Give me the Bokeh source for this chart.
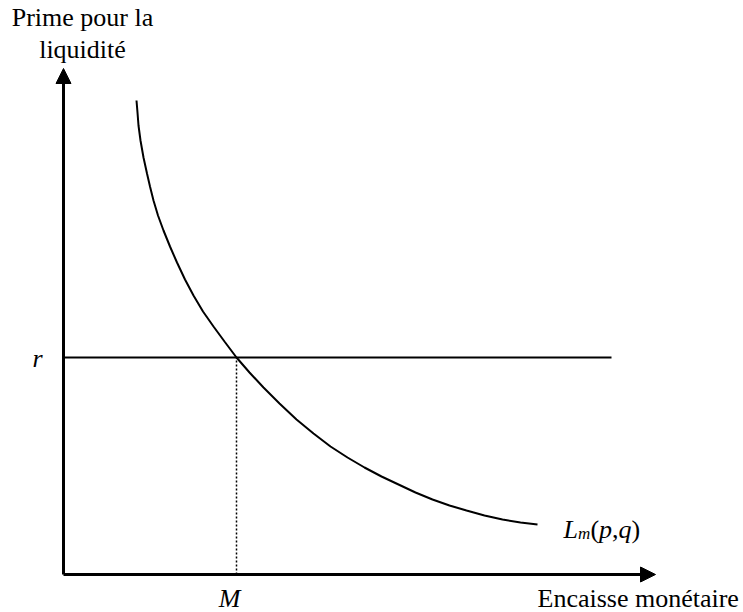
from bokeh.plotting import figure
from bokeh.models import Arrow, NormalHead
from bokeh.core.properties import value
from bokeh.embed import file_html
from bokeh.resources import INLINE

# ---- data (origin at the axes corner) ----
curve_x = [73, 74, 75, 77, 80, 83.5, 86.5, 90, 94.5, 100, 106.5, 113.5, 121.5, 130, 139.5,
           150, 161, 173, 186, 200, 216, 233, 250, 267, 284, 301, 318, 335, 352, 369,
           386, 403, 421, 439, 457, 474]
curve_y = [474, 462, 449, 434, 417, 401, 388, 374, 359, 344, 328, 312, 295, 279, 263,
           248, 233, 217, 202, 187, 171, 155, 141, 128, 117, 107, 98, 90, 82, 75,
           69, 64, 59, 55, 52, 50]
r_level = 217
r_line_end = 548
M_value = 173
x_axis_end = 592
y_axis_end = 506

FONT = value("Liberation Serif")

p = figure(width=743, height=612, x_range=(-63, 680), y_range=(-38, 574),
           output_backend="svg", toolbar_location=None, min_border=0)
p.axis.visible = False
p.grid.visible = False
p.outline_line_color = None
p.background_fill_color = "white"

# axes with arrows
p.add_layout(Arrow(end=NormalHead(size=15, fill_color="black", line_color="black", line_width=1),
                   x_start=0, y_start=0, x_end=0, y_end=y_axis_end,
                   line_width=3, line_color="black"))
p.add_layout(Arrow(end=NormalHead(size=15, fill_color="black", line_color="black", line_width=1),
                   x_start=0, y_start=0, x_end=x_axis_end, y_end=0,
                   line_width=3, line_color="black"))

# horizontal r line
p.line([0, r_line_end], [r_level, r_level], line_color="black", line_width=2)
# dotted vertical at M
p.line([M_value, M_value], [0, r_level], line_color="black", line_width=1.5, line_dash="2 2")
# demand curve
p.line(curve_x, curve_y, line_color="black", line_width=2)

def txt(x, y, s, size="26px", style="normal", align="left", xo=0, yo=0):
    p.text(x=[x], y=[y], text=[s], text_font=FONT, text_font_size=size,
           text_font_style=style, text_align=align, text_baseline="alphabetic",
           text_color="black", x_offset=xo, y_offset=yo)

txt(19, 557, "Prime pour la", align="center")
txt(19, 525, "liquidité", align="center")
txt(-26, 216, "r", style="italic", align="center")
txt(166, -24, "M", style="italic", align="center")
txt(474, -24, "Encaisse monétaire")

# L_m(p,q)
lx, ly = 500, 45
txt(lx, ly, "L", style="italic", xo=0)
txt(lx, ly, "m", size="17px", style="italic", xo=14.5, yo=4)
txt(lx, ly, "(", xo=27)
txt(lx, ly, "p", style="italic", xo=35.5)
txt(lx, ly, ",", xo=48.5)
txt(lx, ly, "q", style="italic", xo=55)
txt(lx, ly, ")", xo=68)

open("out.html", "w").write(file_html(p, INLINE))
